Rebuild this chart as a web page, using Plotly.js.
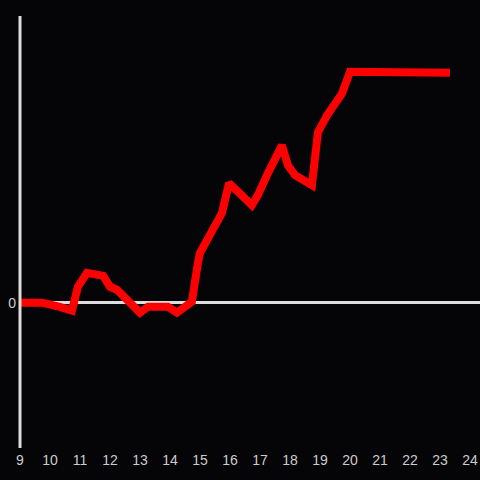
<!DOCTYPE html>
<html>
<head>
<meta charset="utf-8">
<script src="https://cdn.plot.ly/plotly-3.0.1.min.js"></script>
<style>html,body{margin:0;padding:0;background:#050407;}#chart{width:480px;height:480px;}</style>
</head>
<body>
<div id="chart"></div>
<script>
// Hours of the day
const hours = [9.0, 9.73, 10.3, 10.73, 10.93, 11.23, 11.77, 12.0, 12.23, 13.0, 13.27, 13.93, 14.23, 14.73, 14.93, 15.0, 15.73, 15.97, 16.73, 16.93, 17.23, 17.73, 17.93, 18.17, 18.73, 18.93, 19.23, 19.73, 20.0, 23.33];
// Values (relative to zero)
const values = [0, 0, -4, -8, 16, 30, 27, 16, 13, -10, -4, -4, -10, 1, 40, 50, 90, 120, 98, 108, 128, 158, 138, 128, 118, 171, 188, 210, 232, 231];
const xTicks = [9,10,11,12,13,14,15,16,17,18,19,20,21,22,23,24];
const yTicks = [0];

const trace = {
  x: hours, y: values, type: 'scatter', mode: 'lines',
  line: {color: '#ff0000', width: 8},
  hoverinfo: 'none'
};
const layout = {
  width: 480, height: 480,
  paper_bgcolor: '#050407', plot_bgcolor: '#050407',
  margin: {l: 20, r: 0, t: 16, b: 32},
  showlegend: false,
  font: {family: 'Liberation Sans, Arial, sans-serif', size: 14, color: '#cccccc'},
  xaxis: {
    range: [9, 24.333], tickvals: xTicks, ticktext: xTicks.map(String),
    showgrid: false, zeroline: false, showline: false, ticks: '',
    ticklabelstandoff: 2, ticklabeloverflow: 'allow',
    tickfont: {size: 14, color: '#cccccc'}, fixedrange: true
  },
  yaxis: {
    range: [-146, 288], tickvals: yTicks, ticktext: ['0'],
    showgrid: false, zeroline: true, zerolinecolor: '#dddddd', zerolinewidth: 3,
    showline: false, ticks: '',
    ticklabelstandoff: 3,
    tickfont: {size: 14, color: '#cccccc'}, fixedrange: true
  },
  shapes: [{
    type: 'line', xref: 'paper', yref: 'paper', x0: 0, x1: 0, y0: 0, y1: 1,
    line: {color: '#dddddd', width: 3}, layer: 'above'
  }]
};
Plotly.newPlot('chart', [trace], layout, {displayModeBar: false, staticPlot: true});
</script>
</body>
</html>
